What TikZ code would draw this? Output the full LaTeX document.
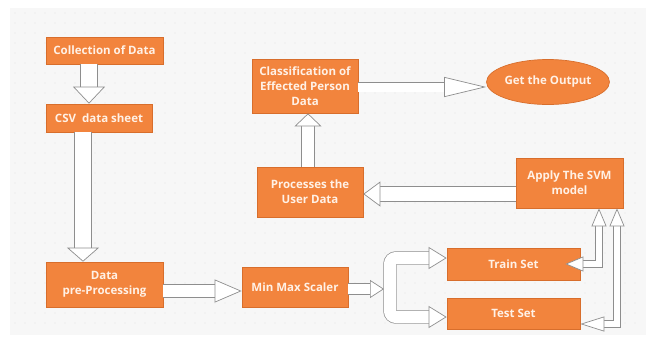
\documentclass[tikz,border=0pt]{standalone}
\usepackage{fontspec}
\setmainfont{Open Sans}
\usetikzlibrary{shapes.geometric,arrows.meta}
\definecolor{boxorange}{HTML}{F2843D}
\definecolor{boxedge}{HTML}{D86E2C}
\definecolor{boxtext}{HTML}{FFF1E6}
\definecolor{arrowgray}{HTML}{8E8E8E}
\definecolor{sheet}{HTML}{F7F7F7}
\definecolor{dotgray}{HTML}{E4E4E4}
\tikzset{
  process/.style={rectangle, draw=boxedge, line width=0.7pt, fill=boxorange, text=boxtext, align=center, inner sep=0pt, font=\fontsize{11.5}{14.8}\selectfont\bfseries},
  blockarrow/.style={draw=arrowgray, line width=0.7pt, double=white, double distance=#1}
}

\begin{document}
\begin{tikzpicture}[x=1pt, y=-1pt]
\useasboundingbox (0,0) rectangle (654,341);
% sheet with dot grid
\fill[sheet] (10,8) rectangle (646,335);
\foreach \i in {0,...,62}
  \foreach \j in {0,...,31}
    \fill[dotgray] (15+\i*10, 13+\j*10) circle (0.6);

\node(coll) [process, minimum width=117, minimum height=27] at (104.5,50.5) {Collection of Data};
\node(csv) [process, minimum width=106, minimum height=28] at (99,118) {CSV\ \ data sheet};
\node(prep) [process, minimum width=117, minimum height=45] at (104.5,284.5) {Data\\pre-Processing};
\node(mms) [process, minimum width=106, minimum height=40] at (295,287) {Min Max Scaler};
\node(cls) [process, minimum width=106, minimum height=54] at (305,86) {Classification of\\Effected Person\\Data};
\node(out) [process, ellipse, minimum width=118, minimum height=45] at (548,82) {Get the Output};
\node(proc) [process, minimum width=106, minimum height=50] at (310,192) {Processes the\\User Data};
\node(svm) [process, minimum width=107, minimum height=50] at (569.5,183) {Apply The SVM\\model};
\node(train) [process, minimum width=133, minimum height=32] at (513.5,264) {Train Set};
\node(test) [process, minimum width=133, minimum height=31] at (513.5,313.5) {Test Set};

\coordinate (fork) at (390,289);

\draw [blockarrow=16pt, -{Triangle[width=32pt, length=17pt, fill=white]}] ([xshift=-15.5pt]coll.south) -- ([xshift=-10pt]csv.north);
\draw [blockarrow=16pt, -{Triangle[width=32pt, length=14pt, fill=white]}] ([xshift=-16pt]csv.south) -- ([xshift=-21.5pt]prep.north);
\draw [blockarrow=12pt, -{Triangle[width=23pt, length=27pt, fill=white]}] (prep.east |- 0,291) -- (mms.west |- 0,291);
\draw [blockarrow=12pt, rounded corners=6pt, -{Triangle[width=22pt, length=18pt, fill=white]}] (fork) |- ([yshift=6pt]train.west);
\draw [blockarrow=12pt, rounded corners=6pt, -{Triangle[width=22pt, length=18pt, fill=white]}] (fork) |- ([yshift=-3.5pt]test.west);
\draw [blockarrow=10pt, -{Triangle[width=18pt, length=14pt, fill=white]}] (mms.east |- fork) -- ([xshift=-6pt]fork);
\draw [blockarrow=6pt, {Triangle[width=15pt, length=18pt, fill=white]}-{Triangle[width=15pt, length=18pt, fill=white]}] ([xshift=-15pt]train.east) -| ([xshift=29.5pt]svm.south);
\draw [blockarrow=6pt, {Triangle[width=15pt, length=24pt, fill=white]}-{Triangle[width=15pt, length=18pt, fill=white]}] ([yshift=-10.5pt]test.east) -| ([xshift=47.5pt]svm.south);
\draw [blockarrow=14pt, -{Triangle[width=25pt, length=17pt, fill=white]}] (svm.west |- 0,194) -- (proc.east |- 0,194);
\draw [blockarrow=12pt, -{Triangle[width=27pt, length=13pt, fill=white]}] (proc.north -| 308,0) -- (cls.south -| 308,0);
\draw [blockarrow=9pt, -{Triangle[width=20pt, length=42pt, fill=white]}] (cls.east |- 0,87) -- (out.west |- 0,87);

\end{tikzpicture}
\end{document}
